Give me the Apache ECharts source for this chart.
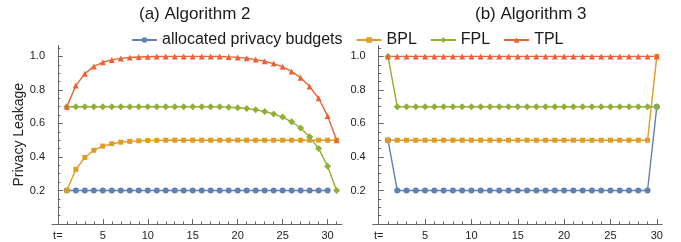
<!DOCTYPE html>
<html>
<head>
<meta charset="utf-8">
<script src="https://cdn.jsdelivr.net/npm/echarts@6/dist/echarts.min.js"></script>
<style>
  html, body { margin: 0; padding: 0; background: #fff; }
  #chart { width: 681px; height: 242px; }
</style>
</head>
<body>
<div id="chart"></div>
<script>
//--------------------- Data -----------------------------------------------//
const seriesNames = ['allocated privacy budgets', 'BPL', 'FPL', 'TPL'];

// (a) Algorithm 2 -- values for t = 1, 2, 3, ...
const alloc2 = [0.2, 0.2, 0.2, 0.2, 0.2, 0.2, 0.2, 0.2, 0.2, 0.2,
                0.2, 0.2, 0.2, 0.2, 0.2, 0.2, 0.2, 0.2, 0.2, 0.2,
                0.2, 0.2, 0.2, 0.2, 0.2, 0.2, 0.2, 0.2, 0.2, 0.2];
const bpl2 = [0.2, 0.326, 0.397, 0.44, 0.465, 0.479, 0.488, 0.493, 0.496, 0.498,
              0.499, 0.5, 0.5, 0.5, 0.5, 0.5, 0.5, 0.5, 0.5, 0.5,
              0.5, 0.5, 0.5, 0.5, 0.5, 0.5, 0.5, 0.5, 0.5, 0.5, 0.5];
const fpl2 = [0.7, 0.7, 0.7, 0.7, 0.7, 0.7, 0.7, 0.7, 0.7, 0.7,
              0.7, 0.7, 0.7, 0.7, 0.7, 0.7, 0.7, 0.699, 0.697, 0.694,
              0.689, 0.681, 0.671, 0.657, 0.638, 0.61, 0.573, 0.52, 0.45, 0.345, 0.2];
const tpl2 = [0.7, 0.826, 0.897, 0.94, 0.965, 0.979, 0.988, 0.993, 0.996, 0.998,
              0.999, 1.0, 1.0, 1.0, 1.0, 1.0, 1.0, 0.999, 0.997, 0.994,
              0.989, 0.981, 0.971, 0.957, 0.938, 0.91, 0.873, 0.82, 0.75, 0.645, 0.5];

// (b) Algorithm 3 -- values for t = 1, 2, 3, ...
const alloc3 = [0.5, 0.2, 0.2, 0.2, 0.2, 0.2, 0.2, 0.2, 0.2, 0.2,
                0.2, 0.2, 0.2, 0.2, 0.2, 0.2, 0.2, 0.2, 0.2, 0.2,
                0.2, 0.2, 0.2, 0.2, 0.2, 0.2, 0.2, 0.2, 0.2, 0.7];
const bpl3 = [0.5, 0.5, 0.5, 0.5, 0.5, 0.5, 0.5, 0.5, 0.5, 0.5,
              0.5, 0.5, 0.5, 0.5, 0.5, 0.5, 0.5, 0.5, 0.5, 0.5,
              0.5, 0.5, 0.5, 0.5, 0.5, 0.5, 0.5, 0.5, 0.5, 1.0];
const fpl3 = [1.0, 0.7, 0.7, 0.7, 0.7, 0.7, 0.7, 0.7, 0.7, 0.7,
              0.7, 0.7, 0.7, 0.7, 0.7, 0.7, 0.7, 0.7, 0.7, 0.7,
              0.7, 0.7, 0.7, 0.7, 0.7, 0.7, 0.7, 0.7, 0.7, 0.7];
const tpl3 = [1.0, 1.0, 1.0, 1.0, 1.0, 1.0, 1.0, 1.0, 1.0, 1.0,
              1.0, 1.0, 1.0, 1.0, 1.0, 1.0, 1.0, 1.0, 1.0, 1.0,
              1.0, 1.0, 1.0, 1.0, 1.0, 1.0, 1.0, 1.0, 1.0, 1.0];

// Tick positions / labels
const xMajorTicks = [0, 5, 10, 15, 20, 25, 30];
const xMinorTicks2 = [1, 2, 3, 4, 5, 6, 7, 8, 9, 10, 11, 12, 13, 14, 15, 16,
                      17, 18, 19, 20, 21, 22, 23, 24, 25, 26, 27, 28, 29, 30, 31];
const xMinorTicks3 = [1, 2, 3, 4, 5, 6, 7, 8, 9, 10, 11, 12, 13, 14, 15, 16,
                      17, 18, 19, 20, 21, 22, 23, 24, 25, 26, 27, 28, 29, 30];
const yMajorTicks = [0.2, 0.4, 0.6, 0.8, 1.0];
const yMinorTicks = [0.05, 0.1, 0.15, 0.2, 0.25, 0.3, 0.35, 0.4, 0.45, 0.5, 0.55,
                     0.6, 0.65, 0.7, 0.75, 0.8, 0.85, 0.9, 0.95, 1.0, 1.05];

//--------------------- Styles ---------------------------//
const FONT = 'Liberation Sans, Arial, sans-serif';
const axisColor = '#666';
const labelColor = '#222';

const looks = {
  'allocated privacy budgets': { color: '#5E81B5', symbol: 'circle', size: 6 },
  'BPL': { color: '#E19C24', symbol: 'rect', size: 5 },
  'FPL': { color: '#8FB032', symbol: 'diamond', size: 7 },
  'TPL': { color: '#EB6235', symbol: 'triangle', size: 6 }
};

//--------------------- Builders ---------------------------//
function makeSeries(name, values, axisIdx) {
  const lk = looks[name];
  return {
    name: name,
    type: 'line',
    xAxisIndex: axisIdx,
    yAxisIndex: axisIdx,
    data: values.map((v, i) => [i + 1, v]),
    symbol: lk.symbol,
    symbolSize: lk.size,
    showAllSymbol: true,
    clip: false,
    lineStyle: { width: 1.4, color: lk.color },
    itemStyle: { color: lk.color },
    emphasis: { disabled: true }
  };
}

// x axes sit at the bottom of the grid (y min is 0)
function makeXAxes(gridIndex, max, minorTicks) {
  return [
    {
      type: 'value', gridIndex: gridIndex, position: 'bottom', min: -0.65, max: max,
      axisLine: { show: true, onZero: false, lineStyle: { color: axisColor, width: 1 } },
      splitLine: { show: false },
      axisTick: { show: true, inside: true, length: 5, customValues: xMajorTicks, lineStyle: { color: axisColor } },
      axisLabel: {
        show: true, customValues: xMajorTicks, margin: 6, fontSize: 11, fontFamily: FONT, color: labelColor,
        formatter: v => (v === 0 ? 't=' : String(v))
      }
    },
    {
      type: 'value', gridIndex: gridIndex, position: 'bottom', min: -0.65, max: max,
      axisLine: { show: false, onZero: false },
      splitLine: { show: false },
      axisTick: { show: true, inside: true, length: 2.5, customValues: minorTicks, lineStyle: { color: axisColor } },
      axisLabel: { show: false }
    }
  ];
}

// y axes cross the x axis at t = 0
function makeYAxes(gridIndex, withName) {
  const zeroIdx = gridIndex * 2;
  const major = {
    type: 'value', gridIndex: gridIndex, position: 'left', min: 0, max: 1.065,
    axisLine: { show: true, onZero: true, onZeroAxisIndex: zeroIdx, lineStyle: { color: axisColor, width: 1 } },
    splitLine: { show: false },
    axisTick: { show: true, inside: true, length: 5, customValues: yMajorTicks, lineStyle: { color: axisColor } },
    axisLabel: {
      customValues: yMajorTicks, margin: 7, fontSize: 11, fontFamily: FONT, color: labelColor,
      formatter: v => v.toFixed(1)
    }
  };
  if (withName) {
    major.name = 'Privacy Leakage';
    major.nameLocation = 'middle';
    major.nameGap = 24;
    major.nameTextStyle = { fontSize: 14, fontFamily: FONT, color: labelColor };
  }
  return [
    major,
    {
      type: 'value', gridIndex: gridIndex, position: 'left', min: 0, max: 1.065,
      axisLine: { show: false, onZero: true, onZeroAxisIndex: zeroIdx },
      splitLine: { show: false },
      axisTick: { show: true, inside: true, length: 2.5, customValues: yMinorTicks, lineStyle: { color: axisColor } },
      axisLabel: { show: false }
    }
  ];
}

//--------------------- Main ---------------------------//
const chart = echarts.init(document.getElementById('chart'), null, { renderer: 'canvas' });

const option = {
  animation: false,
  backgroundColor: '#fff',
  textStyle: { fontFamily: FONT },
  title: [
    { text: '(a) Algorithm 2', left: 134, top: 1, textStyle: { fontSize: 17, fontWeight: 'normal', fontFamily: FONT, color: '#1a1a1a' } },
    { text: '(b) Algorithm 3', left: 470, top: 1, textStyle: { fontSize: 17, fontWeight: 'normal', fontFamily: FONT, color: '#1a1a1a' } }
  ],
  legend: {
    data: seriesNames,
    left: 126, top: 27,
    itemWidth: 25, itemHeight: 7, itemGap: 13,
    textStyle: { fontSize: 16, fontFamily: FONT, color: '#1a1a1a' }
  },
  grid: [
    { left: 52, top: 45.5, width: 290, height: 178.5 },
    { left: 372.7, top: 45.5, width: 289.5, height: 178.5 }
  ],
  xAxis: [].concat(makeXAxes(0, 31.6, xMinorTicks2), makeXAxes(1, 30.58, xMinorTicks3)),
  yAxis: [].concat(makeYAxes(0, true), makeYAxes(1, false)),
  series: [
    makeSeries('allocated privacy budgets', alloc2, 0),
    makeSeries('BPL', bpl2, 0),
    makeSeries('FPL', fpl2, 0),
    makeSeries('TPL', tpl2, 0),
    makeSeries('allocated privacy budgets', alloc3, 2),
    makeSeries('BPL', bpl3, 2),
    makeSeries('FPL', fpl3, 2),
    makeSeries('TPL', tpl3, 2)
  ]
};

chart.setOption(option);
</script>
</body>
</html>
